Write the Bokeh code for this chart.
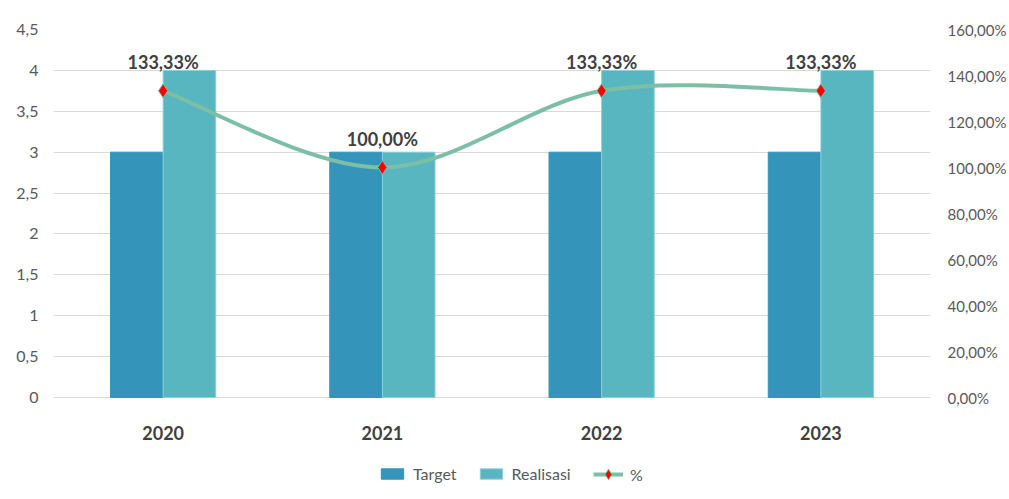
from bokeh.plotting import figure
from bokeh.models import (Range1d, LinearAxis, FixedTicker, CustomJSTickFormatter,
                          Legend, LegendItem, ColumnDataSource)
from bokeh.core.properties import value
from bokeh.embed import file_html
from bokeh.resources import INLINE

# ---- data ----
years = ["2020", "2021", "2022", "2023"]
target = [3, 3, 3, 3]
realisasi = [4, 3, 4, 4]
pct = [1.3333, 1.0, 1.3333, 1.3333]
pct_labels = ["133,33%", "100,00%", "133,33%", "133,33%"]
left_ticks = [0, 0.5, 1, 1.5, 2, 2.5, 3, 3.5, 4, 4.5]
right_ticks = [0, 0.2, 0.4, 0.6, 0.8, 1.0, 1.2, 1.4, 1.6]
series_names = ["Target", "Realisasi", "%"]

C_TARGET = "#3494BA"
C_REAL = "#58B6C0"
C_LINE = "#7CBFA6"
C_REAL_EDGE = "#8fd0d6"
FONT = "Lato"

W, H = 1009, 499
TOP = 29            # px above the 4.5 gridline
PX_VALUES = 368     # px between 0 and 4.5
PX_BELOW = H - TOP - PX_VALUES   # px below the zero line (year labels + legend)
L_MAX, R_MAX = 4.5, 1.6
l_start = -L_MAX * PX_BELOW / PX_VALUES
r_start = -R_MAX * PX_BELOW / PX_VALUES

p = figure(width=W, height=H, output_backend="svg", toolbar_location=None,
           x_range=Range1d(0, 4), y_range=Range1d(l_start, L_MAX),
           x_axis_location=None,
           min_border_left=53, min_border_right=77, min_border_top=TOP,
           min_border_bottom=0)
p.outline_line_color = None
p.extra_y_ranges = {"pct": Range1d(r_start, R_MAX)}

xc = [i + 0.5 for i in range(len(years))]
bw = 0.24
src = ColumnDataSource(dict(xc=xc, xt=[x - bw / 2 for x in xc], xr=[x + bw / 2 for x in xc],
                            target=target, realisasi=realisasi, pct=pct, lab=pct_labels,
                            year=years, zero=[0] * len(years)))

r_t = p.vbar(x="xt", top="target", bottom=0, width=bw, source=src, fill_color=C_TARGET,
             line_color=C_TARGET, line_width=1)
r_r = p.vbar(x="xr", top="realisasi", bottom=0, width=bw, source=src, fill_color=C_REAL,
             line_color=C_REAL_EDGE, line_width=1)

# smooth line (Excel style) drawn as bezier segments between the data points
x0, y0, x1, y1, cx0, cy0, cx1, cy1 = [], [], [], [], [], [], [], []
n = len(pct)
for i in range(n - 1):
    pm = (xc[max(i - 1, 0)], pct[max(i - 1, 0)])
    pa = (xc[i], pct[i])
    pb = (xc[i + 1], pct[i + 1])
    pn = (xc[min(i + 2, n - 1)], pct[min(i + 2, n - 1)])
    x0.append(pa[0]); y0.append(pa[1]); x1.append(pb[0]); y1.append(pb[1])
    cx0.append(pa[0] + (pb[0] - pm[0]) / 6); cy0.append(pa[1] + (pb[1] - pm[1]) / 6)
    cx1.append(pb[0] - (pn[0] - pa[0]) / 6); cy1.append(pb[1] - (pn[1] - pa[1]) / 6)
p.bezier(x0=x0, y0=y0, x1=x1, y1=y1, cx0=cx0, cy0=cy0, cx1=cx1, cy1=cy1,
         line_color=C_LINE, line_width=4, y_range_name="pct")
r_m = p.scatter(x="xc", y="pct", source=src, marker="diamond", size=14,
                fill_color="#FF0000", line_color=C_LINE, line_width=1, y_range_name="pct")
# legend stand-in for the line (a single point draws nothing)
r_lg = p.line(x=[xc[0]], y=[pct[0]], line_color=C_LINE, line_width=4, y_range_name="pct")

# data labels
p.text(x="xc", y="pct", text="lab", source=src, y_range_name="pct",
       text_font=value(FONT), text_font_style="bold", text_font_size="18px",
       text_color="#404040", text_align="center", text_baseline="alphabetic",
       y_offset=-29)

# category (year) labels under the zero line
p.text(x="xc", y="zero", text="year", source=src,
       text_font=value(FONT), text_font_style="bold", text_font_size="18px",
       text_color="#404040", text_align="center", text_baseline="middle",
       y_offset=35)

# axes
p.yaxis.ticker = FixedTicker(ticks=left_ticks)
p.yaxis.formatter = CustomJSTickFormatter(code="return tick.toString().replace('.', ',');")
p.yaxis.axis_line_color = None
p.yaxis.major_tick_line_color = None
p.yaxis.minor_tick_line_color = None
p.yaxis.major_tick_out = 0
p.yaxis.minor_tick_out = 0
p.yaxis.major_label_standoff = 15
p.yaxis.major_label_text_font = FONT
p.yaxis.major_label_text_font_size = "16px"
p.yaxis.major_label_text_color = "#595959"

ra = LinearAxis(y_range_name="pct", ticker=FixedTicker(ticks=right_ticks),
                formatter=CustomJSTickFormatter(
                    code="return (tick*100).toFixed(2).replace('.', ',') + '%';"))
ra.axis_line_color = None
ra.major_tick_line_color = None
ra.minor_tick_line_color = None
ra.major_tick_out = 0
ra.minor_tick_out = 0
ra.major_label_standoff = 17
ra.major_label_text_font = FONT
ra.major_label_text_font_size = "15px"
ra.major_label_text_color = "#595959"
p.add_layout(ra, "right")

p.xgrid.grid_line_color = None
p.ygrid.ticker = FixedTicker(ticks=left_ticks)
p.ygrid.grid_line_color = "#D9D9D9"
p.ygrid.grid_line_width = 1

common = dict(orientation="horizontal", label_standoff=7, spacing=20, padding=4, margin=0,
              border_line_color=None, background_fill_alpha=0,
              label_text_font=FONT, label_text_font_size="16px",
              label_text_color="#595959")
leg1 = Legend(items=[LegendItem(label=series_names[0], renderers=[r_t]),
                     LegendItem(label=series_names[1], renderers=[r_r])],
              location=(325, 16), glyph_width=28, glyph_height=13, **common)
leg2 = Legend(items=[LegendItem(label=series_names[2], renderers=[r_lg, r_m])],
              location=(540, 12), glyph_width=30, glyph_height=26, **common)
p.add_layout(leg1, "center")
p.add_layout(leg2, "center")

open("out.html", "w").write(file_html(p, INLINE))
